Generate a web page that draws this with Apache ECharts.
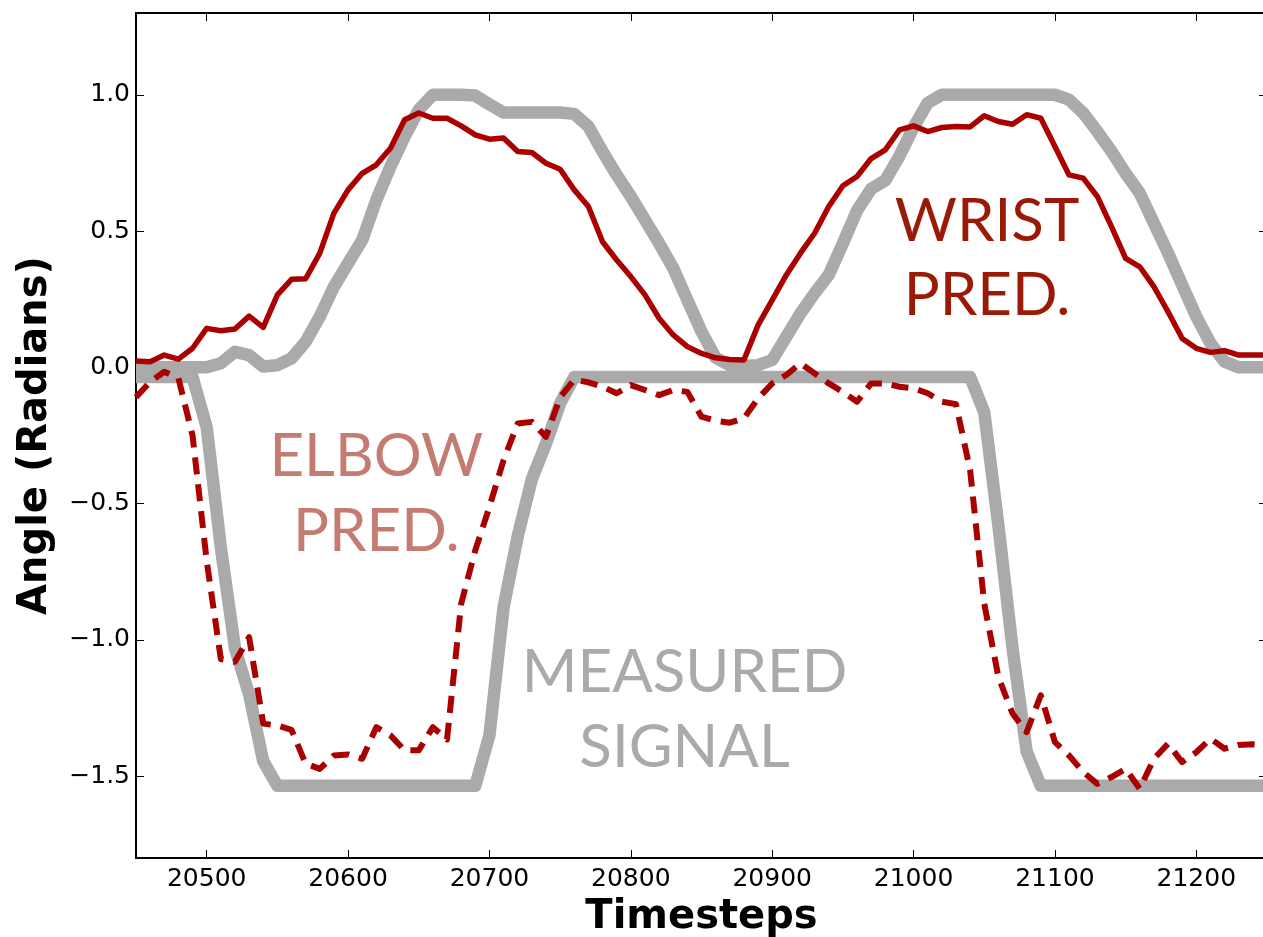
<!DOCTYPE html>
<html>
<head>
<meta charset="utf-8">
<title>Angle predictions</title>
<script src="https://cdn.jsdelivr.net/npm/echarts/dist/echarts.min.js"></script>
<style>
  html, body { margin: 0; padding: 0; background: #fff; }
  #chart { width: 1263px; height: 937px; }
</style>
</head>
<body>
<div id="chart"></div>
<script>
// Timesteps sampled every 10 steps
const timesteps = [
  20450, 20460, 20470, 20480, 20490, 20500, 20510, 20520, 20530, 20540,
  20550, 20560, 20570, 20580, 20590, 20600, 20610, 20620, 20630, 20640,
  20650, 20660, 20670, 20680, 20690, 20700, 20710, 20720, 20730, 20740,
  20750, 20760, 20770, 20780, 20790, 20800, 20810, 20820, 20830, 20840,
  20850, 20860, 20870, 20880, 20890, 20900, 20910, 20920, 20930, 20940,
  20950, 20960, 20970, 20980, 20990, 21000, 21010, 21020, 21030, 21040,
  21050, 21060, 21070, 21080, 21090, 21100, 21110, 21120, 21130, 21140,
  21150, 21160, 21170, 21180, 21190, 21200, 21210, 21220, 21230, 21240,
  21250
];

// Measured wrist angle (radians)
const wristMeasured = [
  0.000, 0.000, 0.000, 0.000, 0.000, 0.000, 0.015, 0.057, 0.045, 0.003,
  0.008, 0.033, 0.094, 0.186, 0.296, 0.382, 0.467, 0.614, 0.737, 0.847,
  0.945, 1.000, 1.000, 1.000, 0.997, 0.965, 0.935, 0.935, 0.935, 0.935,
  0.935, 0.930, 0.884, 0.792, 0.706, 0.627, 0.541, 0.455, 0.364, 0.247,
  0.131, 0.035, 0.008, 0.005, 0.008, 0.027, 0.112, 0.198, 0.272, 0.339,
  0.455, 0.575, 0.655, 0.686, 0.775, 0.880, 0.970, 1.000, 1.000, 1.000,
  1.000, 1.000, 1.000, 1.000, 1.000, 1.000, 0.982, 0.933, 0.865, 0.792,
  0.712, 0.639, 0.529, 0.419, 0.302, 0.186, 0.088, 0.021, 0.000, 0.000,
  0.000
];

// Measured elbow angle (radians)
const elbowMeasured = [
  -0.035, -0.035, -0.035, -0.035, -0.035, -0.220, -0.660, -1.030, -1.200, -1.445,
  -1.535, -1.535, -1.535, -1.535, -1.535, -1.535, -1.535, -1.535, -1.535, -1.535,
  -1.535, -1.535, -1.535, -1.535, -1.535, -1.350, -0.880, -0.620, -0.410, -0.280,
  -0.132, -0.035, -0.035, -0.035, -0.035, -0.035, -0.035, -0.035, -0.035, -0.035,
  -0.035, -0.035, -0.035, -0.035, -0.035, -0.035, -0.035, -0.035, -0.035, -0.035,
  -0.035, -0.035, -0.035, -0.035, -0.035, -0.035, -0.035, -0.035, -0.035, -0.035,
  -0.165, -0.580, -1.030, -1.410, -1.535, -1.535, -1.535, -1.535, -1.535, -1.535,
  -1.535, -1.535, -1.535, -1.535, -1.535, -1.535, -1.535, -1.535, -1.535, -1.535,
  -1.535
];

// Predicted wrist angle (radians)
const wristPredicted = [
  0.023, 0.021, 0.045, 0.030, 0.070, 0.143, 0.134, 0.141, 0.188, 0.147,
  0.266, 0.323, 0.325, 0.419, 0.566, 0.651, 0.712, 0.743, 0.804, 0.908,
  0.933, 0.914, 0.914, 0.886, 0.853, 0.837, 0.841, 0.792, 0.788, 0.749,
  0.727, 0.651, 0.590, 0.461, 0.394, 0.333, 0.266, 0.180, 0.119, 0.076,
  0.051, 0.035, 0.029, 0.027, 0.155, 0.247, 0.339, 0.419, 0.492, 0.590,
  0.666, 0.700, 0.766, 0.798, 0.871, 0.886, 0.865, 0.880, 0.884, 0.882,
  0.923, 0.902, 0.892, 0.927, 0.914, 0.810, 0.706, 0.694, 0.627, 0.516,
  0.400, 0.369, 0.296, 0.204, 0.106, 0.070, 0.055, 0.061, 0.045, 0.045,
  0.045
];

// Predicted elbow angle (radians)
const elbowPredicted = [
  -0.110, -0.053, -0.016, -0.040, -0.250, -0.710, -1.070, -1.080, -0.990, -1.307,
  -1.314, -1.330, -1.454, -1.473, -1.424, -1.420, -1.436, -1.320, -1.350, -1.405,
  -1.405, -1.320, -1.365, -0.867, -0.671, -0.512, -0.340, -0.206, -0.200, -0.255,
  -0.110, -0.045, -0.055, -0.071, -0.095, -0.065, -0.083, -0.102, -0.083, -0.090,
  -0.181, -0.196, -0.203, -0.187, -0.114, -0.059, -0.028, 0.015, -0.022, -0.059,
  -0.090, -0.126, -0.059, -0.059, -0.071, -0.077, -0.095, -0.126, -0.135, -0.377,
  -0.867, -1.136, -1.270, -1.338, -1.203, -1.375, -1.424, -1.485, -1.528, -1.503,
  -1.473, -1.546, -1.436, -1.381, -1.448, -1.412, -1.362, -1.399, -1.385, -1.383,
  -1.387
];

const xTicks = [20500, 20600, 20700, 20800, 20900, 21000, 21100, 21200];
const yTicks = [-1.5, -1.0, -0.5, 0.0, 0.5, 1.0];

// Text annotations, anchored in data space (timestep, angle)
const annotations = [
  { lines: ['WRIST', 'PRED.'], at: [[21052, 0.535], [21052, 0.262]], color: '#9a1a08' },
  { lines: ['ELBOW', 'PRED.'], at: [[20620, -0.328], [20620, -0.601]], color: '#c47c72' },
  { lines: ['MEASURED', 'SIGNAL'], at: [[20838, -1.119], [20838, -1.394]], color: '#aaaaaa' }
];

const pairs = (ys) => timesteps.map((t, i) => [t, ys[i]]);
const fmtY = (v) => v.toFixed(1).replace('-', '\u2212');

const tickFont = { fontFamily: 'DejaVu Sans', fontSize: 25, color: '#000' };
const titleFont = { fontFamily: 'DejaVu Sans', fontSize: 40, fontWeight: 'bold', color: '#000' };
const spine = { show: true, onZero: false, lineStyle: { color: '#000', width: 2 } };
const innerTick = (vals) => ({
  show: true, inside: true, length: 8, customValues: vals,
  lineStyle: { color: '#000', width: 1 }
});

const chart = echarts.init(document.getElementById('chart'), null, { renderer: 'canvas' });

const baseX = { type: 'value', min: 20450, max: 21250, splitLine: { show: false } };
const baseY = { type: 'value', min: -1.8, max: 1.3, splitLine: { show: false } };

chart.setOption({
  animation: false,
  backgroundColor: '#fff',
  grid: {
    left: 136, right: -4, top: 13, bottom: 79,
    containLabel: false, outerBoundsMode: 'none'
  },
  xAxis: [
    Object.assign({}, baseX, {
      position: 'bottom',
      axisLine: spine,
      axisTick: innerTick(xTicks),
      axisLabel: Object.assign({ customValues: xTicks, margin: 9, formatter: (v) => String(v) }, tickFont),
      name: 'Timesteps', nameLocation: 'middle', nameGap: 40, nameTextStyle: titleFont
    }),
    Object.assign({}, baseX, {
      position: 'top',
      axisLine: spine,
      axisTick: innerTick(xTicks),
      axisLabel: { show: false }
    })
  ],
  yAxis: [
    Object.assign({}, baseY, {
      position: 'left',
      axisLine: spine,
      axisTick: innerTick(yTicks),
      axisLabel: Object.assign({ customValues: yTicks, margin: 6, formatter: fmtY }, tickFont),
      name: 'Angle (Radians)', nameLocation: 'middle', nameRotate: 90, nameGap: 80,
      nameTextStyle: titleFont
    }),
    Object.assign({}, baseY, {
      position: 'right',
      axisLine: spine,
      axisTick: innerTick(yTicks),
      axisLabel: { show: false }
    })
  ],
  series: [
    {
      name: 'Elbow measured', type: 'line', data: pairs(elbowMeasured),
      showSymbol: false, z: 2, silent: true,
      lineStyle: { color: '#aaaaaa', width: 12.5, join: 'round', cap: 'butt' }
    },
    {
      name: 'Wrist measured', type: 'line', data: pairs(wristMeasured),
      showSymbol: false, z: 2, silent: true,
      lineStyle: { color: '#aaaaaa', width: 12.5, join: 'round', cap: 'butt' }
    },
    {
      name: 'Wrist predicted', type: 'line', data: pairs(wristPredicted),
      showSymbol: false, z: 3, silent: true,
      lineStyle: { color: '#aa0000', width: 5.5, join: 'round' }
    },
    {
      name: 'Elbow predicted', type: 'line', data: pairs(elbowPredicted),
      showSymbol: false, z: 3, silent: true,
      lineStyle: { color: '#aa0000', width: 6, type: [17, 10], join: 'round' }
    }
  ]
});

// Place the annotation labels from their data-space anchors
const graphics = [];
annotations.forEach((a) => {
  a.lines.forEach((txt, i) => {
    const p = chart.convertToPixel({ xAxisIndex: 0, yAxisIndex: 0 }, a.at[i]);
    graphics.push({
      type: 'text', x: p[0], y: p[1], z: 10, silent: true,
      style: {
        text: txt, fill: a.color, font: '60px Lato',
        align: 'center', verticalAlign: 'middle'
      }
    });
  });
});
chart.setOption({ graphic: graphics });
</script>
</body>
</html>
